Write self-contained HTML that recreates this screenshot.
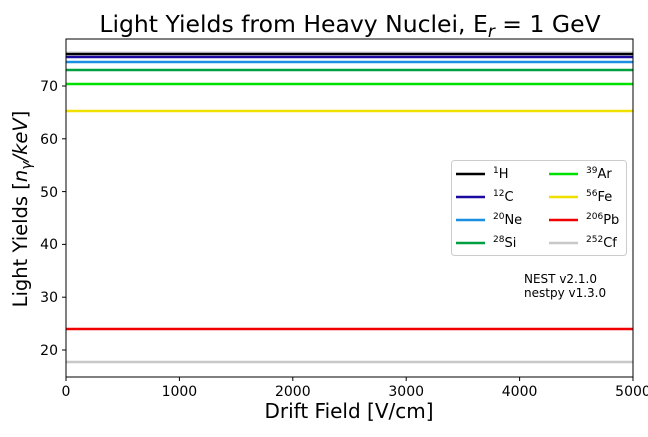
<!DOCTYPE html>
<html><head><style>body{margin:0;background:#fff}</style></head><body>
<svg width="648" height="432" xmlns="http://www.w3.org/2000/svg" font-family="DejaVu Sans, Liberation Sans, sans-serif">
<rect width="648" height="432" fill="#fff"/>
<text x="350" y="32" font-size="23.5" text-anchor="middle">Light Yields from Heavy Nuclei, E<tspan font-style="italic" font-size="17" dy="5">r</tspan><tspan dy="-5"> = 1 GeV</tspan></text>
<g stroke-width="2.5">
<line x1="66" x2="633" y1="52" y2="52" stroke="#ddd" stroke-width="1.5"/>
<line x1="66" x2="633" y1="54" y2="54" stroke="#000"/>
<line x1="66" x2="633" y1="57" y2="57" stroke="#1a0aa0"/>
<line x1="66" x2="633" y1="62" y2="62" stroke="#1a8ee0"/>
<line x1="66" x2="633" y1="70" y2="70" stroke="#00a040"/>
<line x1="66" x2="633" y1="84" y2="84" stroke="#00e000"/>
<line x1="66" x2="633" y1="111" y2="111" stroke="#f0e000"/>
<line x1="66" x2="633" y1="329" y2="329" stroke="#f00000"/>
<line x1="66" x2="633" y1="362" y2="362" stroke="#c8c8c8"/>
</g>
<rect x="66" y="39" width="567" height="338" fill="none" stroke="#000" stroke-width="1"/>
<g stroke="#000" stroke-width="1">
<line x1="66" x2="66" y1="377" y2="381"/><line x1="179.4" x2="179.4" y1="377" y2="381"/><line x1="292.8" x2="292.8" y1="377" y2="381"/><line x1="406.2" x2="406.2" y1="377" y2="381"/><line x1="519.6" x2="519.6" y1="377" y2="381"/><line x1="633" x2="633" y1="377" y2="381"/>
<line x1="62" x2="66" y1="350" y2="350"/><line x1="62" x2="66" y1="297.2" y2="297.2"/><line x1="62" x2="66" y1="244.4" y2="244.4"/><line x1="62" x2="66" y1="191.6" y2="191.6"/><line x1="62" x2="66" y1="138.8" y2="138.8"/><line x1="62" x2="66" y1="86" y2="86"/>
</g>
<g font-size="14" text-anchor="middle">
<text x="66" y="396">0</text><text x="179.4" y="396">1000</text><text x="292.8" y="396">2000</text><text x="406.2" y="396">3000</text><text x="519.6" y="396">4000</text><text x="633" y="396">5000</text>
</g>
<g font-size="14" text-anchor="end">
<text x="58" y="355">20</text><text x="58" y="302">30</text><text x="58" y="249">40</text><text x="58" y="197">50</text><text x="58" y="144">60</text><text x="58" y="91">70</text>
</g>
<text x="349" y="418" font-size="20" text-anchor="middle">Drift Field [V/cm]</text>
<text transform="translate(27,209) rotate(-90)" font-size="19.5" text-anchor="middle">Light Yields [<tspan font-style="italic">n</tspan><tspan font-style="italic" font-size="14" dy="4">γ</tspan><tspan dy="-4" font-style="italic">/keV</tspan>]</text>
<rect x="451.5" y="160.5" width="175" height="95" rx="3" fill="#fff" stroke="#ccc"/>
<g stroke-width="2.5">
<line x1="456" x2="485" y1="174" y2="174" stroke="#000"/>
<line x1="456" x2="485" y1="197" y2="197" stroke="#1a0aa0"/>
<line x1="456" x2="485" y1="220" y2="220" stroke="#1a8ee0"/>
<line x1="456" x2="485" y1="243" y2="243" stroke="#00a040"/>
<line x1="549" x2="578" y1="174" y2="174" stroke="#00e000"/>
<line x1="549" x2="578" y1="197" y2="197" stroke="#f0e000"/>
<line x1="549" x2="578" y1="220" y2="220" stroke="#f00000"/>
<line x1="549" x2="578" y1="243" y2="243" stroke="#c8c8c8"/>
</g>
<g font-size="13">
<text x="493" y="178"><tspan font-size="9" dy="-5">1</tspan><tspan dy="5">H</tspan></text>
<text x="493" y="201"><tspan font-size="9" dy="-5">12</tspan><tspan dy="5">C</tspan></text>
<text x="493" y="224"><tspan font-size="9" dy="-5">20</tspan><tspan dy="5">Ne</tspan></text>
<text x="493" y="247"><tspan font-size="9" dy="-5">28</tspan><tspan dy="5">Si</tspan></text>
<text x="586" y="178"><tspan font-size="9" dy="-5">39</tspan><tspan dy="5">Ar</tspan></text>
<text x="586" y="201"><tspan font-size="9" dy="-5">56</tspan><tspan dy="5">Fe</tspan></text>
<text x="586" y="224"><tspan font-size="9" dy="-5">206</tspan><tspan dy="5">Pb</tspan></text>
<text x="586" y="247"><tspan font-size="9" dy="-5">252</tspan><tspan dy="5">Cf</tspan></text>
</g>
<text x="524" y="283" font-size="12">NEST v2.1.0</text>
<text x="524" y="297" font-size="12">nestpy v1.3.0</text>
</svg>
</body></html>
